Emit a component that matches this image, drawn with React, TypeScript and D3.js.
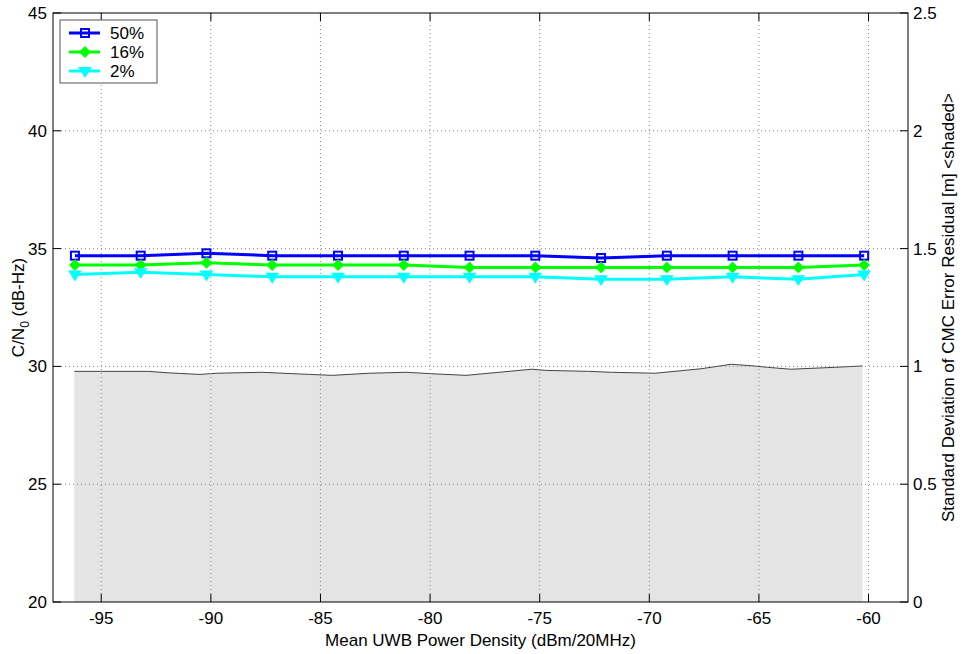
import React from "react";
import * as d3 from "d3";

const xValues = [-96.2, -93.2, -90.2, -87.2, -84.2, -81.2, -78.2, -75.2, -72.2, -69.2, -66.2, -63.2, -60.2];
const p50 = [34.7, 34.7, 34.8, 34.7, 34.7, 34.7, 34.7, 34.7, 34.6, 34.7, 34.7, 34.7, 34.7];
const p16 = [34.3, 34.3, 34.4, 34.3, 34.3, 34.3, 34.2, 34.2, 34.2, 34.2, 34.2, 34.2, 34.3];
const p2 = [33.9, 34.0, 33.9, 33.8, 33.8, 33.8, 33.8, 33.8, 33.7, 33.7, 33.8, 33.7, 33.9];

const shadeX = [-96.23, -92.86, -92.0, -90.5, -89.73, -87.68, -85.5, -84.45, -82.77, -81.1, -79.73, -78.36, -75.36, -74.73, -72.77, -71.73, -69.73, -67.64, -66.27, -65.36, -64.6, -63.55, -61.55, -60.27];
const shadeStd = [0.979, 0.979, 0.973, 0.966, 0.971, 0.975, 0.966, 0.962, 0.971, 0.975, 0.968, 0.962, 0.988, 0.983, 0.979, 0.975, 0.971, 0.99, 1.009, 1.003, 0.996, 0.988, 0.996, 1.002];

const xTicks = [-95, -90, -85, -80, -75, -70, -65, -60];
const yTicks = [20, 25, 30, 35, 40, 45];
const y2Ticks = [0, 0.5, 1, 1.5, 2, 2.5];
const seriesNames = ["50%", "16%", "2%"];
const seriesColors = ["#0000ff", "#00ff00", "#00ffff"];

const L = 53, R = 908, T = 13, B = 602;
const FONT = "'Liberation Sans', Arial, sans-serif";
const FS = 17;

function Marker({ kind, cx, cy, color }: { kind: number; cx: number; cy: number; color: string }) {
  if (kind === 0) {
    return <rect x={cx - 4} y={cy - 4} width={8} height={8} fill="none" stroke={color} strokeWidth={2} />;
  }
  if (kind === 1) {
    const s = 4.5;
    return <path d={`M${cx},${cy - s}L${cx + s},${cy}L${cx},${cy + s}L${cx - s},${cy}Z`} fill={color} stroke={color} strokeWidth={2} />;
  }
  const s = 5;
  return <path d={`M${cx - s},${cy - s * 0.6}L${cx + s},${cy - s * 0.6}L${cx},${cy + s}Z`} fill={color} stroke={color} strokeWidth={2} />;
}

export default function App() {
  const x = d3.scaleLinear().domain([-97.2, -58.2]).range([L, R]);
  const y = d3.scaleLinear().domain([20, 45]).range([B, T]);
  const y2 = d3.scaleLinear().domain([0, 2.5]).range([B, T]);

  const area = d3
    .area<number>()
    .x((_, i) => x(shadeX[i]))
    .y0(y2(0))
    .y1((d) => y2(d));
  const edge = d3
    .line<number>()
    .x((_, i) => x(shadeX[i]))
    .y((d) => y2(d));
  const line = d3
    .line<number>()
    .x((_, i) => x(xValues[i]))
    .y((d) => y(d));

  const series = [p50, p16, p2];
  const tick = 8;

  return (
    <svg width={964} height={654} style={{ position: "absolute", left: 0, top: 0, background: "#fff" }} fontFamily={FONT}>
      <rect x={0} y={0} width={964} height={654} fill="#fff" />
      <path d={area(shadeStd) || ""} fill="#e4e4e4" />
      <path d={edge(shadeStd) || ""} fill="none" stroke="#444" strokeWidth={1} />
      {/* grid */}
      {xTicks.map((t) => (
        <line key={"gx" + t} x1={x(t)} x2={x(t)} y1={T} y2={B} stroke="#888" strokeWidth={1} strokeDasharray="1,3" />
      ))}
      {yTicks.slice(1, -1).map((t) => (
        <line key={"gy" + t} x1={L} x2={R} y1={y(t)} y2={y(t)} stroke="#888" strokeWidth={1} strokeDasharray="1,3" />
      ))}
      {/* series */}
      {series.map((s, k) => (
        <g key={"s" + k}>
          <path d={line(s) || ""} fill="none" stroke={seriesColors[k]} strokeWidth={3} />
          {s.map((v, i) => (
            <Marker key={i} kind={k} cx={x(xValues[i])} cy={y(v)} color={seriesColors[k]} />
          ))}
        </g>
      ))}
      {/* axes box */}
      <rect x={L} y={T} width={R - L} height={B - T} fill="none" stroke="#000" strokeWidth={1} />
      {xTicks.map((t) => (
        <g key={"xt" + t}>
          <line x1={x(t)} x2={x(t)} y1={B} y2={B - tick} stroke="#000" />
          <line x1={x(t)} x2={x(t)} y1={T} y2={T + tick} stroke="#000" />
          <text x={x(t)} y={B + 22} fontSize={FS} textAnchor="middle">
            {t}
          </text>
        </g>
      ))}
      {yTicks.map((t) => (
        <g key={"yt" + t}>
          <line x1={L} x2={L + tick} y1={y(t)} y2={y(t)} stroke="#000" />
          <text x={L - 6} y={y(t) + 6} fontSize={FS} textAnchor="end">
            {t}
          </text>
        </g>
      ))}
      {y2Ticks.map((t) => (
        <g key={"y2t" + t}>
          <line x1={R} x2={R - tick} y1={y2(t)} y2={y2(t)} stroke="#000" />
          <text x={R + 5} y={y2(t) + 6} fontSize={FS} textAnchor="start">
            {t}
          </text>
        </g>
      ))}
      {/* axis labels */}
      <text x={(L + R) / 2} y={646} fontSize={FS} textAnchor="middle">
        Mean UWB Power Density (dBm/20MHz)
      </text>
      <text transform={`translate(24,${(T + B) / 2}) rotate(-90)`} fontSize={FS} textAnchor="middle">
        C/N<tspan fontSize={12} dy={5}>0</tspan>
        <tspan dy={-5}> (dB-Hz)</tspan>
      </text>
      <text transform={`translate(954,${(T + B) / 2}) rotate(-90)`} fontSize={FS} textAnchor="middle">
        {"Standard Deviation of CMC Error Residual [m] <shaded>"}
      </text>
      {/* legend */}
      <g>
        <rect x={60} y={20} width={97} height={63} fill="#fff" stroke="#555" strokeWidth={1} />
        {seriesNames.map((n, k) => {
          const ly = 33 + k * 19;
          return (
            <g key={"lg" + k}>
              <line x1={69} x2={100} y1={ly} y2={ly} stroke={seriesColors[k]} strokeWidth={3} />
              <Marker kind={k} cx={85} cy={ly} color={seriesColors[k]} />
              <text x={110} y={ly + 6} fontSize={FS}>
                {n}
              </text>
            </g>
          );
        })}
      </g>
    </svg>
  );
}
